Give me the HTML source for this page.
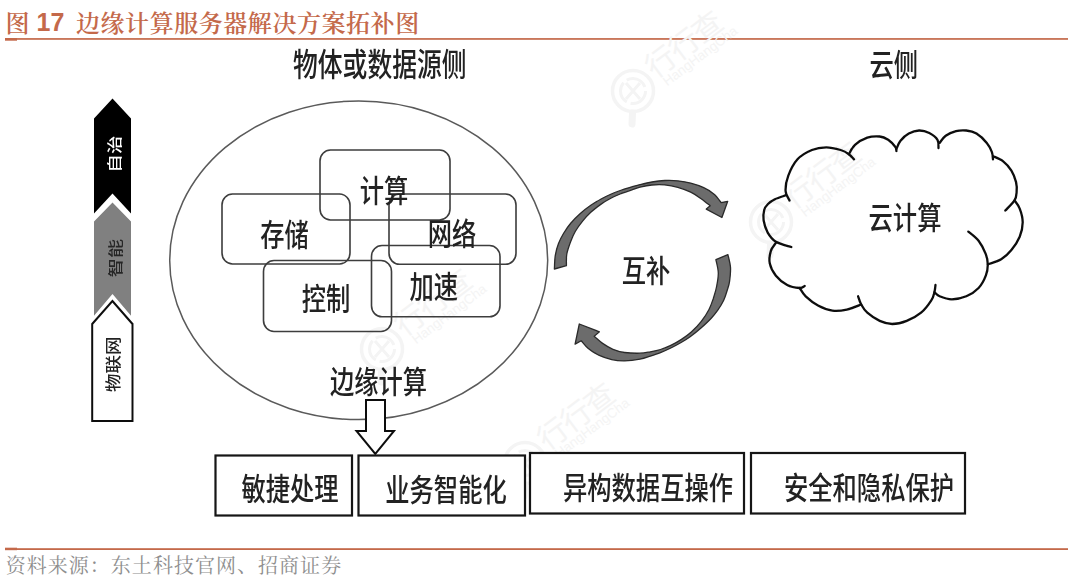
<!DOCTYPE html>
<html lang="zh-CN">
<head>
<meta charset="utf-8">
<title>图 17 边缘计算服务器解决方案拓补图</title>
<style>
html,body{margin:0;padding:0;background:#fff;}
body{width:1080px;height:584px;position:relative;overflow:hidden;font-family:"Liberation Sans","Noto Sans CJK SC",sans-serif;}
.ttl{position:absolute;top:0;height:38px;line-height:38px;color:#c4694a;font-size:24px;white-space:nowrap;font-family:"Liberation Serif","Noto Serif CJK SC",serif;font-weight:600;}
.ttl b{font-family:"Liberation Sans",sans-serif;font-weight:700;}
.rule{position:absolute;left:5px;width:1063px;height:1.6px;background:#c4694a;}
.tick{position:absolute;left:5px;width:12px;height:3px;background:#c4694a;}
.src{position:absolute;left:5.7px;top:552.2px;height:28px;line-height:28px;color:#8e8e8e;font-size:20px;white-space:nowrap;font-family:"Liberation Serif","Noto Serif CJK SC",serif;letter-spacing:1.03px;}
svg{position:absolute;left:0;top:0;}
svg text{font-family:"Liberation Sans","Noto Sans CJK SC",sans-serif;fill:#222;font-weight:500;}
</style>
</head>
<body>
<div class="ttl" style="left:5.5px;top:4px">图 <b id="n17" style="position:relative;top:-1.3px;font-size:25px;margin-left:1px">17</b> <span id="rest" style="letter-spacing:0.55px;margin-left:5.7px">边缘计算服务器解决方案拓补图</span></div>
<div class="src">资料来源：东土科技官网、招商证券</div>
<svg width="1080" height="584" viewBox="0 0 1080 584">
<defs>
<filter id="bl" x="-5%" y="-5%" width="110%" height="110%"><feGaussianBlur stdDeviation="0.7"/></filter>
</defs>
<g fill="#c4694a">
<rect x="5" y="38.1" width="1063" height="1.7"/>
<rect x="5" y="38" width="12" height="2.7"/>
<rect x="5" y="548.2" width="1063" height="1.8"/>
<rect x="5" y="547.7" width="12" height="2.5"/>
</g>
<!-- watermark -->
<g style="font-weight:400">
<g transform="translate(633,91)"><g fill="none" stroke="#f4f4f4"><circle cx="0" cy="0" r="20.5" stroke-width="3.5"/><circle cx="0" cy="0" r="12.5" stroke-width="3" stroke-dasharray="22 4"/><path d="M-7,-8 L7,8 M7,-8 L-7,8" stroke-width="3"/><path d="M-0.5,22 L-1,33" stroke-width="7" stroke-linecap="round"/></g><g transform="rotate(-37)"><text x="25" y="4" font-size="30" style="fill:#f4f4f4;font-weight:400" textLength="88">行行查</text><text x="30" y="17" font-size="13.5" style="fill:#f4f4f4;font-weight:400">HangHangCha</text></g></g>
<g transform="translate(771,222)"><g fill="none" stroke="#f4f4f4"><circle cx="0" cy="0" r="20.5" stroke-width="3.5"/><circle cx="0" cy="0" r="12.5" stroke-width="3" stroke-dasharray="22 4"/><path d="M-7,-8 L7,8 M7,-8 L-7,8" stroke-width="3"/><path d="M-0.5,22 L-1,33" stroke-width="7" stroke-linecap="round"/></g><g transform="rotate(-37)"><text x="25" y="4" font-size="30" style="fill:#f4f4f4;font-weight:400" textLength="88">行行查</text><text x="30" y="17" font-size="13.5" style="fill:#f4f4f4;font-weight:400">HangHangCha</text></g></g>
<g transform="translate(382,349)"><g fill="none" stroke="#f4f4f4"><circle cx="0" cy="0" r="20.5" stroke-width="3.5"/><circle cx="0" cy="0" r="12.5" stroke-width="3" stroke-dasharray="22 4"/><path d="M-7,-8 L7,8 M7,-8 L-7,8" stroke-width="3"/><path d="M-0.5,22 L-1,33" stroke-width="7" stroke-linecap="round"/></g><g transform="rotate(-37)"><text x="25" y="4" font-size="30" style="fill:#f4f4f4;font-weight:400" textLength="88">行行查</text><text x="30" y="17" font-size="13.5" style="fill:#f4f4f4;font-weight:400">HangHangCha</text></g></g>
<g transform="translate(525,463)"><g fill="none" stroke="#f4f4f4"><circle cx="0" cy="0" r="20.5" stroke-width="3.5"/><circle cx="0" cy="0" r="12.5" stroke-width="3" stroke-dasharray="22 4"/><path d="M-7,-8 L7,8 M7,-8 L-7,8" stroke-width="3"/><path d="M-0.5,22 L-1,33" stroke-width="7" stroke-linecap="round"/></g><g transform="rotate(-37)"><text x="25" y="4" font-size="30" style="fill:#f4f4f4;font-weight:400" textLength="88">行行查</text><text x="30" y="17" font-size="13.5" style="fill:#f4f4f4;font-weight:400">HangHangCha</text></g></g>
</g>
<g filter="url(#bl)">
<!-- left arrow stack -->
<polygon points="112.5,98.5 131,118.5 131,213.5 112.5,193.5 94,213.5 94,118.5" fill="#000"/>
<polygon points="112.5,202.5 131,221.5 131,315.7 112.5,294 94,315.7 94,221.5" fill="#808080"/>
<polygon points="112.4,301 132.5,324 132.5,421 92.2,421 92.2,324" fill="#fff" stroke="#111" stroke-width="2"/>
<!-- big ellipse -->
<ellipse cx="358.7" cy="260.3" rx="189" ry="159.3" fill="none" stroke="#5a5a5a" stroke-width="1.5"/>
<!-- rounded boxes -->
<g fill="none" stroke="#3c3c3c" stroke-width="1.6">
<rect x="320" y="150" width="130" height="70" rx="10.5" ry="11"/>
<rect x="222" y="194" width="128" height="70" rx="10.5" ry="11"/>
<rect x="389" y="194" width="127" height="70.3" rx="10.5" ry="11"/>
<rect x="371.5" y="245.5" width="128.5" height="71.3" rx="10.5" ry="11"/>
<rect x="263.5" y="260.5" width="128" height="71" rx="10.5" ry="11"/>
</g>
<!-- down arrow -->
<polygon points="366,400 385,400 385,431 394,431 375.3,454 356.5,431 366,431" fill="#fff" stroke="#111" stroke-width="2"/>
<!-- bottom boxes -->
<g fill="#fff" stroke="#161616" stroke-width="2.2">
<rect x="215.5" y="455.5" width="136.5" height="60"/>
<rect x="358.5" y="455.5" width="166.5" height="60"/>
<rect x="530" y="453" width="214" height="60.5"/>
<rect x="751" y="453" width="214" height="60.5"/>
</g>
<!-- curved arrows -->
<g fill="#6c6c6c" stroke="#2a2a2a" stroke-width="1.3" stroke-linejoin="round">
<path d="M554.4,269.0 C554.5,266.7 554.6,259.6 555.3,255.3 C556.0,251.1 557.1,247.1 558.5,243.5 C559.9,239.9 561.5,236.8 563.5,233.5 C565.5,230.2 567.7,226.8 570.5,223.5 C573.3,220.2 576.9,216.5 580.3,213.5 C583.7,210.5 587.3,207.7 590.8,205.3 C594.3,202.9 597.7,200.9 601.1,199.0 C604.5,197.1 607.9,195.5 611.3,194.0 C614.7,192.5 618.2,191.2 621.6,190.0 C625.0,188.8 628.8,187.7 631.9,186.8 C635.0,185.9 636.7,185.4 640.0,184.6 C643.3,183.8 647.8,182.7 651.9,182.0 C656.0,181.3 660.5,180.7 664.8,180.5 C669.1,180.3 673.5,180.4 677.8,180.8 C682.1,181.2 686.4,181.9 690.7,183.1 C695.0,184.2 699.8,185.8 703.7,187.7 C707.6,189.5 711.2,191.7 714.1,194.2 C717.0,196.7 720.0,201.2 721.2,202.6 L727.7,201.3 L721.9,217.5 L706.3,209.1 L710.2,205.8 C708.7,204.6 704.4,201.0 701.1,198.7 C697.9,196.4 694.6,194.1 690.7,192.2 C686.8,190.3 682.1,188.5 677.8,187.3 C673.5,186.1 669.1,185.3 664.8,184.9 C660.5,184.5 656.0,184.6 651.9,185.0 C647.8,185.4 643.3,186.4 640.0,187.2 C636.7,188.0 635.0,188.8 631.9,189.8 C628.8,190.8 625.0,192.0 621.6,193.4 C618.2,194.8 614.7,196.2 611.3,198.0 C607.9,199.8 604.5,201.7 601.1,204.1 C597.7,206.5 593.9,209.5 590.8,212.3 C587.7,215.1 585.2,217.9 582.6,221.1 C580.0,224.3 577.4,227.8 575.4,231.3 C573.4,234.8 571.9,238.2 570.5,242.0 C569.1,245.8 567.5,250.1 566.8,254.0 C566.1,257.9 566.5,263.7 566.4,265.6 Z"/>
<path d="M727.9,254.6 C728.3,256.7 730.2,263.0 730.5,267.4 C730.8,271.8 730.1,277.3 729.6,281.1 C729.1,284.9 728.3,286.8 727.3,290.0 C726.3,293.2 725.3,296.9 723.7,300.3 C722.1,303.7 719.9,307.2 717.8,310.2 C715.7,313.2 713.8,315.5 711.0,318.5 C708.2,321.5 704.4,325.0 701.0,328.0 C697.6,331.0 693.8,334.1 690.5,336.5 C687.2,338.9 684.4,340.6 681.1,342.5 C677.8,344.4 674.2,346.3 670.8,348.0 C667.4,349.7 663.9,351.2 660.5,352.6 C657.1,354.0 653.7,355.1 650.3,356.2 C646.9,357.3 644.3,358.4 640.0,359.2 C635.7,360.0 629.3,360.8 624.6,360.9 C619.9,361.0 616.0,360.6 611.7,359.6 C607.4,358.6 602.6,356.9 598.7,355.1 C594.8,353.3 591.2,351.0 588.3,348.6 C585.4,346.2 582.4,342.1 581.2,340.8 L575.1,344.1 L579.3,324.0 L599.4,331.8 L594.2,336.3 C595.6,337.5 599.5,341.2 602.6,343.4 C605.7,345.6 609.3,347.8 613.0,349.3 C616.7,350.8 620.1,351.9 624.6,352.5 C629.1,353.1 635.7,353.3 640.0,353.2 C644.3,353.1 646.9,352.4 650.3,351.8 C653.7,351.2 657.1,350.6 660.5,349.5 C663.9,348.4 667.4,347.0 670.8,345.4 C674.2,343.8 677.7,341.8 681.1,339.6 C684.5,337.4 687.9,335.1 691.3,332.0 C694.7,328.9 698.3,325.1 701.3,321.3 C704.2,317.6 707.0,313.4 709.0,309.5 C711.0,305.6 712.1,301.9 713.4,298.2 C714.6,294.4 715.7,291.2 716.5,287.0 C717.3,282.8 718.4,277.6 718.3,273.0 C718.2,268.4 716.3,261.9 715.9,259.7 Z"/>
</g>
<!-- cloud -->
<g fill="none" stroke="#111" stroke-width="2.3" stroke-linecap="round">
<path d="M789.5,200.5 C788.9,198.9 785.8,195.2 785.6,191.1 C785.4,187.0 786.3,181.0 788.3,175.7 C790.3,170.4 793.6,163.6 797.5,159.3 C801.4,155.0 807.1,152.0 811.9,150.0 C816.7,148.0 821.5,147.4 826.3,147.4 C831.1,147.4 836.8,148.9 840.6,150.0 C844.4,151.1 846.7,152.6 848.9,154.2 C851.1,155.8 853.1,158.5 854.0,159.3"/>
<path d="M848.9,154.2 C849.9,152.6 851.9,147.7 855.0,144.9 C858.1,142.2 863.2,139.1 867.3,137.7 C871.4,136.3 876.2,136.2 879.7,136.5 C883.2,136.8 885.6,138.1 888.2,139.8 C890.8,141.6 894.0,145.1 895.4,147.0 C896.8,148.9 896.2,150.3 896.4,151.0"/>
<path d="M896.4,149.0 C897.1,147.6 898.4,143.4 900.5,140.8 C902.6,138.2 905.7,135.3 908.8,133.6 C911.9,131.9 915.6,130.6 919.0,130.5 C922.4,130.4 926.2,131.4 929.3,133.0 C932.4,134.6 936.0,137.3 937.5,139.8 C939.0,142.3 938.3,146.6 938.5,148.0"/>
<path d="M939.6,142.9 C940.6,141.7 943.0,137.6 945.7,135.7 C948.4,133.8 952.6,132.1 956.0,131.2 C959.4,130.3 962.9,130.1 966.3,130.5 C969.7,130.9 973.1,131.5 976.5,133.6 C979.9,135.7 984.2,139.8 986.8,142.9 C989.4,146.0 990.9,149.4 991.9,152.1 C992.9,154.8 992.8,158.1 993.0,159.3"/>
<path d="M993.0,156.2 C994.7,157.0 1000.1,158.9 1003.2,161.3 C1006.3,163.7 1009.3,167.2 1011.4,170.6 C1013.5,174.0 1015.1,178.3 1016.0,181.9 C1016.9,185.5 1016.9,189.1 1016.6,192.2 C1016.4,195.3 1016.4,197.3 1014.5,200.4 C1012.6,203.5 1006.8,208.9 1005.3,210.6"/>
<path d="M1014.5,200.4 C1015.4,201.8 1018.3,204.9 1019.7,208.6 C1021.1,212.2 1022.7,217.6 1022.7,222.3 C1022.7,227.0 1021.6,232.1 1019.7,236.7 C1017.8,241.3 1014.5,246.2 1011.4,250.0 C1008.3,253.8 1005.1,256.9 1001.2,259.3 C997.3,261.7 990.0,263.5 987.8,264.4"/>
<path d="M968.3,231.6 C970.0,233.1 975.7,237.0 978.6,240.8 C981.5,244.6 984.3,250.3 985.8,254.2 C987.3,258.1 987.8,260.8 987.8,264.4 C987.8,268.0 987.3,271.8 985.8,275.7 C984.3,279.6 981.9,284.6 978.6,288.0 C975.4,291.4 970.8,294.4 966.3,296.3 C961.8,298.2 956.3,299.3 951.9,299.3 C947.5,299.3 942.5,297.5 939.6,296.3 C936.7,295.1 935.3,292.9 934.4,292.2"/>
<path d="M935.5,285.0 C935.3,286.2 935.1,289.6 934.4,292.2 C933.7,294.8 933.5,297.0 931.3,300.4 C929.1,303.8 925.2,309.3 921.1,312.7 C917.0,316.1 911.5,319.0 906.7,320.9 C901.9,322.8 896.8,324.0 892.3,324.0 C887.8,324.0 883.9,322.8 879.7,320.9 C875.5,319.0 870.4,315.4 867.3,312.7 C864.2,310.0 862.7,307.2 861.2,304.5 C859.7,301.8 858.6,297.7 858.1,296.3"/>
<path d="M861.2,304.5 C858.8,305.4 851.6,308.6 846.8,309.6 C842.0,310.6 837.2,311.3 832.4,310.6 C827.6,309.9 822.5,307.9 818.0,305.5 C813.5,303.1 808.8,299.2 805.7,296.3 C802.6,293.4 800.6,289.4 799.6,288.0"/>
<path d="M804.7,286.0 C803.9,286.3 802.5,288.2 799.6,288.0 C796.7,287.8 791.2,287.1 787.2,285.0 C783.2,282.9 778.8,279.3 775.9,275.7 C773.0,272.1 770.6,267.5 769.8,263.4 C768.9,259.3 769.8,254.5 770.8,251.1 C771.8,247.7 775.0,244.3 775.9,242.9"/>
<path d="M791.3,247.0 C788.7,246.1 779.8,244.2 775.9,241.8 C772.0,239.4 769.8,236.2 767.7,232.6 C765.7,229.0 764.2,224.1 763.6,220.3 C763.0,216.5 763.5,212.7 764.2,210.0 C764.9,207.3 766.2,205.8 768.0,204.0 C769.8,202.2 771.9,200.8 774.9,199.3 C777.9,197.8 784.3,195.9 786.2,195.2"/>
</g>
<!-- endshapes -->
<!-- labels -->
<g font-size="24.3" text-anchor="middle">
<text transform="translate(379.8,65) scale(1,1.3)" y="8.8" font-size="24.8">物体或数据源侧</text>
<text transform="translate(893.8,65.5) scale(1,1.25)" y="8.6">云侧</text>
<text transform="translate(384,191.5) scale(1,1.25)" y="8.6">计算</text>
<text transform="translate(284.5,235) scale(1,1.25)" y="8.6">存储</text>
<text transform="translate(452,234) scale(1,1.25)" y="8.6">网络</text>
<text transform="translate(433.7,287) scale(1,1.25)" y="8.6">加速</text>
<text transform="translate(326,299) scale(1,1.25)" y="8.6">控制</text>
<text transform="translate(378.5,382) scale(1,1.25)" y="8.6">边缘计算</text>
<text transform="translate(646,271.5) scale(1,1.25)" y="8.6">互补</text>
<text transform="translate(905,218) scale(1,1.25)" y="8.6">云计算</text>
<text transform="translate(290,489) scale(1,1.25)" y="8.6">敏捷处理</text>
<text transform="translate(446,490) scale(1,1.25)" y="8.6">业务智能化</text>
<text transform="translate(648,488) scale(1,1.25)" y="8.6">异构数据互操作</text>
<text transform="translate(869,488) scale(1,1.25)" y="8.6">安全和隐私保护</text>
</g>
<g font-size="14.5" text-anchor="middle">
<text transform="translate(114.3,154) rotate(-90) scale(1.27,1)" y="5.2" fill="#fff" style="fill:#fff">自治</text>
<text transform="translate(115.5,258) rotate(-90) scale(1.32,1)" y="5.2" style="fill:#262626">智能</text>
<text transform="translate(113.8,364.3) rotate(-90) scale(1.19,1)" y="5.5" font-size="15.5">物联网</text>
</g>
</g>
</svg>
</body>
</html>
